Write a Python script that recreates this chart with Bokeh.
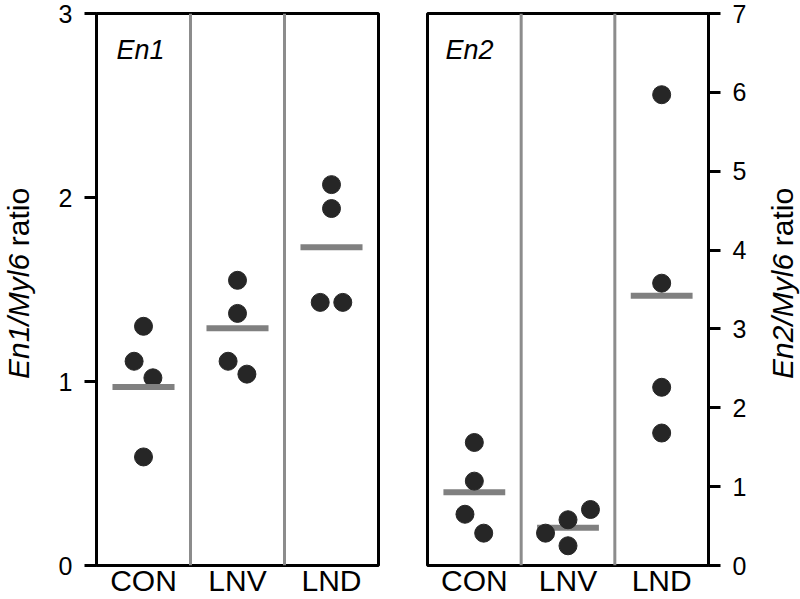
from bokeh.plotting import figure
from bokeh.models import Range1d, FixedTicker, Label, LinearAxis, Span, ColumnDataSource
from bokeh.core.properties import value
from bokeh.layouts import row
from bokeh.embed import file_html
from bokeh.resources import INLINE

categories = ["CON", "LNV", "LND"]

en1_group = [0, 0, 0, 0, 1, 1, 1, 1, 2, 2, 2, 2]
en1_jitter = [0, -0.1, 0.1, 0, 0, 0, -0.1, 0.1, 0, 0, -0.12, 0.12]
en1_values = [1.30, 1.11, 1.02, 0.59, 1.55, 1.37, 1.11, 1.04, 2.07, 1.94, 1.43, 1.43]
en1_means = [0.97, 1.29, 1.73]

en2_group = [0, 0, 0, 0, 1, 1, 1, 1, 2, 2, 2, 2]
en2_jitter = [0, 0, -0.1, 0.1, 0.24, 0, -0.24, 0, 0, 0, 0, 0]
en2_values = [1.56, 1.07, 0.65, 0.41, 0.71, 0.58, 0.41, 0.25, 5.97, 3.58, 2.26, 1.68]
en2_means = [0.93, 0.48, 3.42]

en1_ticks = [0, 1, 2, 3]
en2_ticks = [0, 1, 2, 3, 4, 5, 6, 7]

FONT = "Liberation Sans"
DOT = "#262626"
MEAN = "#808080"
DIV = "#8c8c8c"
H = 599


def make_panel(width, bl, br, ymax, ticks, side, group, jitter, values, means,
               gene, title_x, lines_on_top):
    p = figure(width=width, height=H, x_range=Range1d(0, len(categories)),
               y_range=Range1d(0, ymax), output_backend="svg", toolbar_location=None,
               x_axis_location=None, y_axis_location=None,
               min_border_left=bl, min_border_right=br, min_border_top=13,
               min_border_bottom=30)
    p.grid.visible = False
    p.outline_line_color = "black"
    p.outline_line_width = 3
    p.background_fill_color = "white"
    p.border_fill_color = "white"

    xaxis = LinearAxis(ticker=FixedTicker(ticks=[i + 0.5 for i in range(len(categories))]),
                       major_label_overrides={i + 0.5: c for i, c in enumerate(categories)})
    xaxis.axis_line_color = None
    xaxis.major_tick_line_color = None
    xaxis.minor_tick_line_color = None
    xaxis.major_tick_in = 0
    xaxis.major_tick_out = 0
    xaxis.major_label_standoff = -2
    xaxis.major_label_text_font = FONT
    xaxis.major_label_text_font_size = "30px"
    xaxis.major_label_text_color = "black"
    p.add_layout(xaxis, "below")

    yaxis = LinearAxis(ticker=FixedTicker(ticks=ticks))
    yaxis.axis_line_width = 3
    yaxis.axis_line_color = "black"
    yaxis.major_tick_out = 12
    yaxis.major_tick_in = 0
    yaxis.major_tick_line_width = 3
    yaxis.major_tick_line_color = "black"
    yaxis.minor_tick_line_color = None
    yaxis.major_label_standoff = 12
    yaxis.major_label_text_font = FONT
    yaxis.major_label_text_font_size = "25px"
    yaxis.major_label_text_color = "black"
    p.add_layout(yaxis, side)

    for i in range(1, len(categories)):
        p.add_layout(Span(location=i, dimension="height", line_color=DIV, line_width=3))

    src = ColumnDataSource(dict(x=[g + 0.5 + j for g, j in zip(group, jitter)], y=values))
    msrc = ColumnDataSource(dict(x0=[i + 0.5 - 0.33 for i in range(len(means))],
                                 x1=[i + 0.5 + 0.33 for i in range(len(means))],
                                 y=means))

    def draw_means():
        p.segment(x0="x0", x1="x1", y0="y", y1="y", source=msrc, line_color=MEAN,
                  line_width=6, line_cap="butt")

    if not lines_on_top:
        draw_means()
    p.scatter(x="x", y="y", source=src, size=18, fill_color=DOT, line_color=DOT)
    if lines_on_top:
        draw_means()

    p.add_layout(Label(x=title_x, x_units="screen", y=ymax, y_offset=-36,
                       text=gene, text_font=FONT, text_font_size="27px",
                       text_font_style="italic", text_baseline="alphabetic",
                       text_color="black"))
    return p


def make_label(width, gene):
    q = figure(width=width, height=H, x_range=Range1d(0, 1), y_range=Range1d(0, H),
               output_backend="svg", toolbar_location=None,
               x_axis_location=None, y_axis_location=None,
               min_border_left=0, min_border_right=0, min_border_top=0,
               min_border_bottom=0)
    q.grid.visible = False
    q.outline_line_color = None
    q.background_fill_color = "white"
    q.border_fill_color = "white"
    fs = 30
    ital = gene + "/Myl6"
    w_ital = (1.779 + 0.278 + 2.111) * fs
    w_space = 0.278 * fs
    w_norm = 1.945 * fs
    total = w_ital + w_space + w_norm
    mid = H - 290
    boundary = mid - total / 2 + w_ital
    q.text(x=[0.5], y=[boundary], text=[ital], angle=1.5707963,
           text_font=value(FONT), text_font_size=f"{fs}px", text_font_style="italic",
           text_align="right", text_baseline="middle", text_color="black")
    q.text(x=[0.5], y=[boundary + w_space], text=["ratio"], angle=1.5707963,
           text_font=value(FONT), text_font_size=f"{fs}px", text_font_style="normal",
           text_align="left", text_baseline="middle", text_color="black")
    return q


lab1 = make_label(36, "En1")
p1 = make_panel(364, 60, 22, 3, en1_ticks, "left", en1_group, en1_jitter, en1_values,
                en1_means, "En1", 20, True)
p2 = make_panel(364, 27, 56, 7, en2_ticks, "right", en2_group, en2_jitter, en2_values,
                en2_means, "En2", 18, False)
lab2 = make_label(36, "En2")

layout = row(lab1, p1, p2, lab2, spacing=0)
open("out.html", "w").write(file_html(layout, INLINE))
